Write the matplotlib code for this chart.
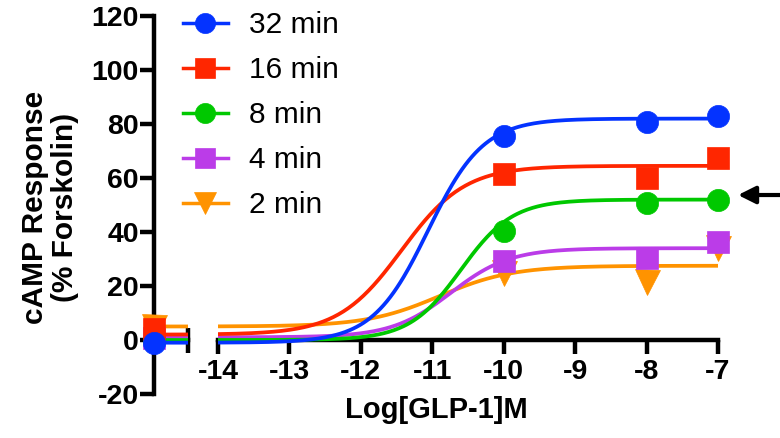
import numpy as np
import matplotlib.pyplot as plt

plt.rcParams['font.family'] = ['Liberation Sans', 'DejaVu Sans']

# series labels and colours (32 min drawn last so it sits on top)
labels = ["32 min", "16 min", "8 min", "4 min", "2 min"]
colors = ["#0433FF", "#FF2600", "#00C800", "#BB3CE8", "#FF9300"]
markers = ["o", "s", "o", "s", "v"]
msizes = [16, 16.5, 16, 16.5, 18]

# measured points: log[GLP-1] and % forskolin
basal_x = -15.0
conc = [-10, -8, -7]
basal = [-1.1, 4.0, 0.0, 0.7, 5.0]
resp_32 = [75.5, 80.7, 83.0]
resp_16 = [61.5, 60.0, 67.4]
resp_8 = [40.4, 50.7, 51.9]
resp_4 = [29.3, 30.4, 36.3]
resp_2 = [25.0, 21.5, 34.0]
responses = [resp_32, resp_16, resp_8, resp_4, resp_2]

# fitted sigmoid parameters
bottoms = [-1.0, 2.0, 0.0, 1.0, 5.0]
tops = [82.0, 64.5, 52.0, 34.0, 27.5]
log_ec50 = [-11.06, -11.43, -10.6, -10.74, -10.9]
hills = [1.12, 0.98, 1.2, 1.05, 0.85]


def sigmoid(x, bottom, top, ec50, hill):
    return bottom + (top - bottom) / (1 + 10 ** (hill * (ec50 - x)))


fig = plt.figure(figsize=(7.8, 4.38), dpi=100)
ax_b = fig.add_axes([154 / 780, 44 / 438, 34 / 780, 378 / 438])
ax = fig.add_axes([218 / 780, 44 / 438, 500 / 780, 378 / 438])

lw_axis = 3.2
for a in (ax_b, ax):
    a.set_ylim(-20, 120)
    a.spines['top'].set_visible(False)
    a.spines['right'].set_visible(False)
    a.spines['bottom'].set_position(('data', 0))
    a.spines['bottom'].set_linewidth(lw_axis)
    a.spines['left'].set_linewidth(lw_axis)
    a.patch.set_visible(False)
    a.tick_params(width=lw_axis, length=10, labelsize=20.5, pad=4)

ax.spines['left'].set_visible(False)
ax.tick_params(axis='y', left=False, labelleft=False)
ax.set_xlim(-14, -7)
ax.set_xticks(range(-14, -6))
ax.set_xticklabels([str(v) for v in range(-14, -6)], fontweight='bold')

ax_b.set_xlim(basal_x, basal_x + 34 / 71.4)
ax_b.set_xticks([basal_x + 34 / 71.4])
ax_b.set_xticklabels([''])
ax_b.tick_params(axis='x', length=18, direction='inout')
ax_b.set_yticks(range(-20, 121, 20))
ax_b.set_yticklabels([str(v) for v in range(-20, 121, 20)], fontweight='bold')
ax_b.tick_params(axis='y', pad=1)

xs = np.linspace(-14, -7, 300)
xs_b = np.linspace(basal_x, basal_x + 34 / 71.4, 20)
handles = []
for i in reversed(range(len(labels))):
    p = (bottoms[i], tops[i], log_ec50[i], hills[i])
    z = 10 + (5 - i)
    ax.plot(xs, sigmoid(xs, *p), color=colors[i], lw=2.7, zorder=z,
            solid_capstyle='butt')
    ax_b.plot(xs_b, sigmoid(xs_b, *p), color=colors[i], lw=2.7, zorder=z,
              solid_capstyle='butt')
    ax.plot(conc, responses[i], linestyle='none', marker=markers[i],
            ms=msizes[i], color=colors[i], mec=colors[i], mew=0.5,
            zorder=z + 0.5, clip_on=False)
    ax_b.plot([basal_x], [basal[i]], linestyle='none', marker=markers[i],
              ms=msizes[i], color=colors[i], mec=colors[i], mew=0.5,
              zorder=z + 0.5, clip_on=False)

for i in range(len(labels)):
    h, = ax.plot([], [], color=colors[i], lw=2.5, marker=markers[i],
                 ms=msizes[i] - 1.5, mec=colors[i], mew=0.5)
    handles.append(h)

ax.legend(handles, labels, loc='upper left', frameon=False,
          bbox_to_anchor=(183 / 780, 1 - 11 / 438),
          bbox_transform=fig.transFigure,
          borderpad=0, borderaxespad=0, handlelength=1.5,
          handletextpad=0.7, labelspacing=0.57, fontsize=21.5)

ax.annotate('', xy=(-6.72, 53.7), xytext=(-6.05, 53.7),
            xycoords='data', annotation_clip=False,
            arrowprops=dict(arrowstyle='-|>', lw=3, color='black',
                            mutation_scale=26, shrinkA=0, shrinkB=0))

fig.text(436 / 780, 1 - 410 / 438, 'Log[GLP-1]M', ha='center', va='center',
         fontsize=21, fontweight='bold')
fig.text(50 / 780, 1 - 207 / 438, 'cAMP Response\n(% Forskolin)', ha='center',
         va='center', rotation=90, fontsize=21.5, fontweight='bold',
         linespacing=1.05)

fig.savefig('out.png', dpi=100)
